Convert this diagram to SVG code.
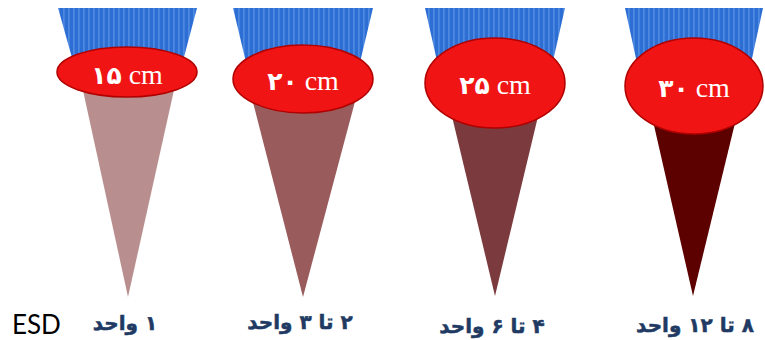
<svg xmlns="http://www.w3.org/2000/svg" width="765" height="340" viewBox="0 0 765 340">
<defs>
<pattern id="bristle" patternUnits="userSpaceOnUse" width="5" height="10">
<rect width="5" height="10" fill="#2d6ed5"/>
<rect x="3.3" width="1.2" height="10" fill="#5a94e4"/>
</pattern>
<style>
.brush{fill:url(#bristle);}
.head{fill:#f01414;stroke:#b00000;stroke-width:1.5;}
.size{font-family:"Liberation Serif","DejaVu Sans",serif;font-size:28px;fill:#ffffff;text-anchor:middle;}
.dg{font-family:"DejaVu Sans",sans-serif;font-weight:bold;font-size:25px;}
.unit{font-family:"DejaVu Sans",sans-serif;font-weight:bold;font-size:20px;fill:#203a63;stroke:#203a63;stroke-width:0.5;text-anchor:middle;direction:rtl;unicode-bidi:embed;}
.esd{font-family:Lato,"Liberation Sans",sans-serif;font-size:26px;fill:#000000;}
</style>
</defs>
<rect width="765" height="340" fill="#ffffff"/>
<g id="brush1">
<polygon points="79,72 178,72 128,297" fill="#b98e8e"/>
<polygon class="brush" points="58,8 197,8 180,72 76,72"/>
<ellipse class="head" cx="127" cy="72" rx="70" ry="25"/>
<text class="size" x="127" y="84"><tspan class="dg">۱۵</tspan> cm</text>
</g>
<g id="brush2">
<polygon points="247,79 361,79 303,297" fill="#9a5b5c"/>
<polygon class="brush" points="233,8 373,8 356,79 250,79"/>
<ellipse class="head" cx="303" cy="79" rx="70" ry="34"/>
<text class="size" x="303" y="90"><tspan class="dg">۲۰</tspan> cm</text>
</g>
<g id="brush3">
<polygon points="444,83 546,83 495,296" fill="#7b3b3e"/>
<polygon class="brush" points="425,8 565,8 548,83 442,83"/>
<ellipse class="head" cx="495" cy="83" rx="70" ry="45"/>
<text class="size" x="495" y="94"><tspan class="dg">۲۵</tspan> cm</text>
</g>
<g id="brush4">
<polygon points="645,86 744,86 693,296" fill="#5c0000"/>
<polygon class="brush" points="625,8 763,8 746,86 642,86"/>
<ellipse class="head" cx="694" cy="86" rx="69" ry="48"/>
<text class="size" x="694" y="97"><tspan class="dg">۳۰</tspan> cm</text>
</g>
<g id="connectors"></g>
<g id="labels">
<text class="esd" x="12" y="334">ESD</text>
<text class="unit" x="125" y="330">۱ واحد</text>
<text class="unit" x="300" y="329">۲ تا ۳ واحد</text>
<text class="unit" x="492" y="333">۴ تا ۶ واحد</text>
<text class="unit" x="695" y="332">۸ تا ۱۲ واحد</text>
</g>
</svg>
